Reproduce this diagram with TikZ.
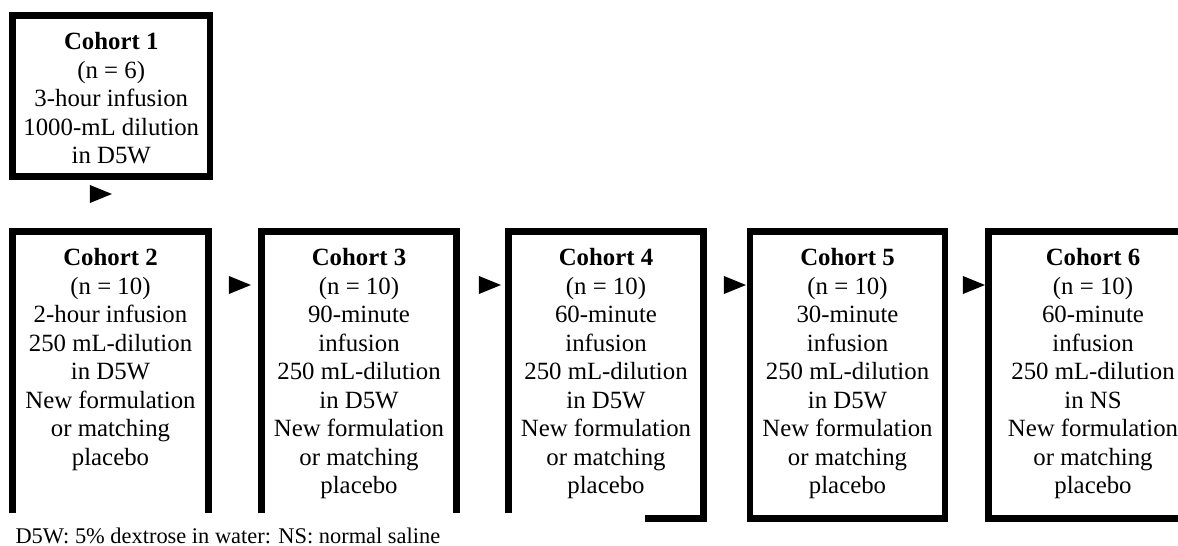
\documentclass[tikz,border=0pt]{standalone}
\usepackage{fontspec}
\setmainfont{Liberation Serif}
\usetikzlibrary{shapes.geometric}

\begin{document}
\begin{tikzpicture}[
    x=1pt, y=-1pt,
    cohort/.style={rectangle, anchor=north, inner xsep=0pt, inner ysep=17pt, minimum width=195pt, align=center, font=\fontsize{24.8}{28.5}\selectfont},
    border/.style={line width=6.5pt, line join=miter},
    tip/.style={isosceles triangle, isosceles triangle apex angle=80, isosceles triangle stretches, fill=black, inner sep=0pt, minimum width=18pt, minimum height=22pt},
]
\clip (0,0) rectangle (1178,546);
\fill[white] (0,0) rectangle (1178,546);

\coordinate (floor1) at (0,176.5);
\coordinate (floor2) at (0,518.5);
\coordinate (gap) at (0,513);

\node[cohort, minimum width=197.5pt] (C1) at (111.25,15.5) {\textbf{Cohort 1}\\(n = 6)\\3-hour infusion\\1000-mL dilution\\in D5W};
\node[cohort, minimum width=196pt] (C2) at (110.5,231.5) {\textbf{Cohort 2}\\(n = 10)\\2-hour infusion\\250 mL-dilution\\in D5W\\New formulation\\or matching\\placebo};
\node[cohort] (C3) at (359,231.5) {\textbf{Cohort 3}\\(n = 10)\\90-minute\\infusion\\250 mL-dilution\\in D5W\\New formulation\\or matching\\placebo};
\node[cohort] (C4) at (606,231.5) {\textbf{Cohort 4}\\(n = 10)\\60-minute\\infusion\\250 mL-dilution\\in D5W\\New formulation\\or matching\\placebo};
\node[cohort] (C5) at (847.5,231.5) {\textbf{Cohort 5}\\(n = 10)\\30-minute\\infusion\\250 mL-dilution\\in D5W\\New formulation\\or matching\\placebo};
\node[cohort, minimum width=209pt] (C6) at (1093,231.5) {\textbf{Cohort 6}\\(n = 10)\\60-minute\\infusion\\250 mL-dilution\\in NS\\New formulation\\or matching\\placebo};

\draw[border] (C1.north west) rectangle (C1.east |- floor1);
\draw[border] (C2.west |- gap) |- (C2.north east) -- (C2.east |- gap);
\draw[border] (C3.west |- gap) |- (C3.north east) -- (C3.east |- gap);
\draw[border] (C4.west |- gap) |- (C4.north east) |- (645,518.5);
\draw[border] (C5.north west) rectangle (C5.east |- floor2);
\draw[border] (C6.north west) rectangle (C6.east |- floor2);

\node[tip] (T1) at (96,194) {};
\node[tip] (T2) at (235,285) {};
\node[tip] (T3) at (485,285) {};
\node[tip] (T4) at (730,285) {};
\node[tip] (T5) at (969,285) {};

\node[anchor=base west, font=\fontsize{22.4}{27}\selectfont] (note) at (12,543) {D5W: 5\% dextrose in water: NS: normal saline};
\end{tikzpicture}
\end{document}
